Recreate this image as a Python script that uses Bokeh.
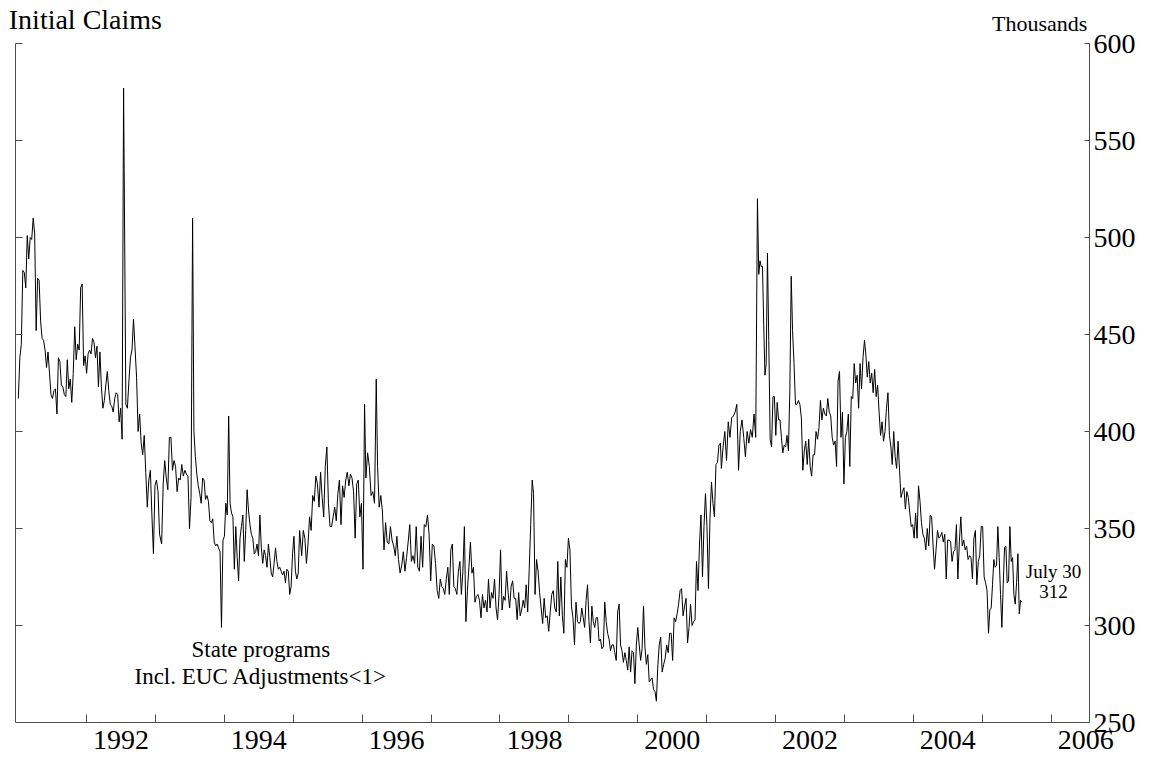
import pandas as pd
from bokeh.plotting import figure
from bokeh.models import Range1d, LinearAxis, FixedTicker, CustomJSTickFormatter, Label
from bokeh.embed import file_html
from bokeh.resources import INLINE

FONT = "Liberation Serif"
AXIS_COLOR = "#4d4d4d"

# Weekly initial claims (thousands), state programs incl. EUC adjustments,
# read from the reference chart. One list per stretch of weeks; each stretch
# runs from its first to its last week (dates in `periods` below).
claims_1991a = [417, 438, 445, 483, 482, 474, 501, 489, 500, 499, 510, 502, 452, 479, 478, 457, 448, 447, 442, 433,
                441, 430, 419, 417, 421, 422, 409, 438, 436, 424, 423, 419, 418, 437, 422, 427, 415, 430, 454, 437,
                445, 442, 474, 476, 434, 439, 430, 440, 442, 440, 448, 446, 438, 444, 423, 441, 423, 412, 416, 424,
                431, 421, 414, 413, 410, 417, 420, 419, 405, 412, 396, 577]
claims_1992b = [414, 412, 426, 438, 442, 458, 443, 428, 400, 409, 394, 388, 398, 379, 361, 375, 380, 357, 337, 372,
                375, 369, 347]
claims_1993a = [342, 373, 385, 376, 370, 397, 397, 380, 385, 382, 369, 376, 375, 383, 377, 380, 378, 377, 350, 366,
                510]
claims_1993b = [400, 387, 378, 372, 368, 363, 376, 375, 365, 367, 364, 354, 353, 355, 343, 341, 342, 340, 338, 299]
claims_1994 = [344, 346, 363, 357, 408, 363, 358, 356, 329, 351, 335, 323, 345, 351, 357, 333, 349, 370, 359,
               352, 347, 345, 337, 338, 342, 336, 357, 340, 332, 339, 336, 330, 342, 335, 327, 325, 332, 340, 333,
               329, 330, 328, 326, 328, 322, 329, 328, 316, 320, 337, 346, 328, 324, 327, 349]
claims_1995 = [336, 349, 345, 332, 342, 356, 349, 367, 364, 377, 373, 361, 379, 366, 356, 382, 392, 363, 351, 351,
               356, 361, 354, 368, 375, 352, 372, 366, 375, 379, 372, 378, 376, 369, 345, 373, 375, 356, 363, 329,
               414]
claims_1996a = [376, 389, 382, 367, 369, 363, 427]
claims_1996b = [382, 361, 367, 359, 339, 353, 343, 342, 351, 344, 341, 336,
                346, 334, 327, 331, 338, 328, 335, 343, 352, 333, 336, 332, 351, 330, 328, 346, 330, 352, 351, 357,
                347, 323, 342, 341, 332, 318, 314]
claims_1997 = [324, 320, 319, 316, 324, 330, 316, 339, 342, 320, 319, 316, 328, 333, 316, 328, 351, 302, 318, 330,
               343, 327, 330, 312, 315, 316, 313, 304, 316, 309, 313, 307, 324, 309, 317, 314, 324, 309, 303, 316,
               339, 308, 315, 313, 328, 317, 309, 320, 323, 314, 314, 303, 317, 305, 308, 313, 309, 321, 307, 329,
               352, 375]
claims_1998 = [368, 316, 334, 328, 317, 309, 301, 314, 304, 305, 297, 307, 316, 318, 309, 307, 333, 305,
               325, 305, 296, 334, 330, 345, 339, 310, 304, 290, 312, 302, 301]
claims_1999 = [302, 309, 304, 299, 313, 321, 302, 291, 310, 302, 299, 304, 304, 292, 293, 288, 289, 312, 302, 296,
               293, 287, 290, 290, 286, 282, 307, 311, 290, 287, 281, 286, 282, 277, 289, 276, 287, 286, 270, 290,
               299, 290, 282, 288, 310, 289, 280, 285, 271, 272, 273, 267, 266, 261]
claims_2000 = [278, 290, 294, 276, 280, 283,
               290, 286, 296, 296, 282, 304, 302, 306, 311, 318, 319, 305, 310, 314, 291, 299, 311, 300, 302, 303,
               333, 318, 342, 357, 325, 351, 368, 351, 319, 355, 374, 363, 356, 383, 384, 393, 394]
claims_2001a = [381, 392, 400, 385, 405, 397, 407, 408, 410, 414, 380, 400, 406, 397, 387, 400, 394, 401, 397, 409,
                397, 520]
claims_2001b = [481, 488, 485, 485, 455, 429, 435, 492]
claims_2001c = [447, 396, 392, 418, 418, 398, 415, 406, 406, 397, 389, 393, 392, 398, 390, 421, 480]
claims_2002 = [452, 435, 414, 414, 416, 414, 407, 380, 390, 395, 383, 396,
               382, 377, 388, 388, 400, 396, 402, 416, 406, 412, 409, 408, 417, 410, 408, 397, 393, 395, 382, 426,
               431, 397, 410, 373, 397, 400, 409, 382, 418, 417, 435, 425, 429, 412, 435, 422, 438, 447]
claims_2003 = [440, 428, 436, 425, 430, 420, 432, 418, 424, 410, 398, 405, 395, 400, 412, 420, 398, 392]
claims_2004 = [383, 400, 387, 381, 395, 380, 366, 369, 371, 360, 369, 366, 358, 351, 352, 345, 358, 345, 372, 364,
               353, 347, 345, 339, 350, 341, 357, 356, 341, 329, 339, 349, 345, 346, 348, 343, 347, 324, 344, 344,
               343, 333, 338, 339, 352, 324, 343, 356, 341, 344, 339, 341, 334, 336, 335, 324, 345, 349, 321, 333,
               336, 351, 351, 325, 322, 318, 296]
claims_2005 = [308, 309, 321, 334, 330, 331, 351, 335, 316, 299, 321, 340, 341,
               322, 323, 351, 333, 335, 316, 311, 322, 337, 306, 313, 312]

periods = [
    ("1991-01-05", "1992-07-16", claims_1991a),
    ("1992-07-28", "1993-01-23", claims_1992b),
    ("1993-02-03", "1993-07-17", claims_1993a),
    ("1993-07-24", "1993-12-17", claims_1993b),
    ("1993-12-25", "1995-02-04", claims_1994),
    ("1995-02-15", "1996-01-14", claims_1995),
    ("1996-01-21", "1996-03-16", claims_1996a),
    ("1996-03-23", "1997-02-11", claims_1996b),
    ("1997-02-19", "1998-06-21", claims_1997),
    ("1998-06-28", "1999-02-24", claims_1998),
    ("1999-03-03", "2000-04-09", claims_1999),
    ("2000-04-16", "2001-03-15", claims_2000),
    ("2001-03-20", "2001-09-27", claims_2001a),
    ("2001-10-04", "2001-11-19", claims_2001b),
    ("2001-11-26", "2002-03-25", claims_2001c),
    ("2002-04-01", "2003-04-17", claims_2002),
    ("2003-04-24", "2003-09-04", claims_2003),
    ("2003-09-11", "2005-02-03", claims_2004),
    ("2005-02-10", "2005-07-30", claims_2005),
]

tick_years = list(range(1992, 2007))
label_years = list(range(1992, 2007, 2))
y_ticks = [250, 300, 350, 400, 450, 500, 550, 600]
X_START, X_END = 1990.97, 2006.556   # extent of the axes
Y_LOW, Y_HIGH = 250, 600


def decimal_year(ts):
    start = pd.Timestamp(year=ts.year, month=1, day=1)
    end = pd.Timestamp(year=ts.year + 1, month=1, day=1)
    return ts.year + (ts - start) / (end - start)


xs, ys = [], []
for start, end, vals in periods:
    for t in pd.date_range(start, end, periods=len(vals)):
        xs.append(decimal_year(t))
    ys.extend(vals)

# frame reaches a little beyond the axes so the header texts sit inside it
p = figure(width=1150, height=761,
           x_range=Range1d(1990.868, X_END), y_range=Range1d(Y_LOW, 622.17),
           output_backend="svg", toolbar_location=None,
           min_border_left=8, min_border_right=61, min_border_top=0, min_border_bottom=39)
p.outline_line_color = None
p.grid.visible = False
p.background_fill_color = "white"
p.border_fill_color = "white"

p.line(xs, ys, line_color="black", line_width=1)

# bottom axis: ticks at year starts, labels mid-year on even years
xa = p.xaxis[0]
xa.bounds = (X_START, X_END)
xa.ticker = FixedTicker(ticks=[y + 0.5 for y in label_years], minor_ticks=tick_years)
xa.formatter = CustomJSTickFormatter(code="return Math.floor(tick).toString();")
xa.major_tick_in = 0
xa.major_tick_out = 0
xa.minor_tick_in = 8
xa.minor_tick_out = 0
xa.minor_tick_line_color = AXIS_COLOR
xa.axis_line_color = AXIS_COLOR
xa.major_label_text_font = FONT
xa.major_label_text_font_size = "28px"
xa.major_label_text_color = "black"
xa.major_label_standoff = 8

# left axis: ticks only
ya = p.yaxis[0]
ya.fixed_location = X_START
ya.bounds = (Y_LOW, Y_HIGH)
ya.ticker = FixedTicker(ticks=y_ticks)
ya.formatter = CustomJSTickFormatter(code="return '';")
ya.major_tick_in = 7
ya.major_tick_out = 0
ya.minor_tick_line_color = None
ya.axis_line_color = AXIS_COLOR
ya.major_tick_line_color = AXIS_COLOR
ya.major_label_standoff = 0

# right axis with labels
yr = LinearAxis(ticker=FixedTicker(ticks=y_ticks), bounds=(Y_LOW, Y_HIGH),
                major_tick_in=5, major_tick_out=0,
                minor_tick_line_color=None, axis_line_color=AXIS_COLOR,
                major_tick_line_color=AXIS_COLOR,
                major_label_text_font=FONT, major_label_text_font_size="28px",
                major_label_text_color="black", major_label_standoff=4)
p.add_layout(yr, "right")

labels = [
    dict(x=1990.872, y=612.4, text="Initial Claims", text_font_size="28px", text_align="left"),
    dict(x=2006.526, y=610.5, text="Thousands", text_font_size="22px", text_align="right"),
    dict(x=1994.53, y=287.4, text="State programs", text_font_size="23px", text_align="center"),
    dict(x=1994.53, y=273.5, text="Incl. EUC Adjustments<1>", text_font_size="23px", text_align="center"),
    dict(x=2006.033, y=327.6, text="July 30", text_font_size="19px", text_align="center"),
    dict(x=2006.033, y=317.3, text="312", text_font_size="19px", text_align="center"),
]
for kw in labels:
    p.add_layout(Label(text_font=FONT, text_color="black", text_baseline="alphabetic", **kw))

open("out.html", "w").write(file_html(p, INLINE))
